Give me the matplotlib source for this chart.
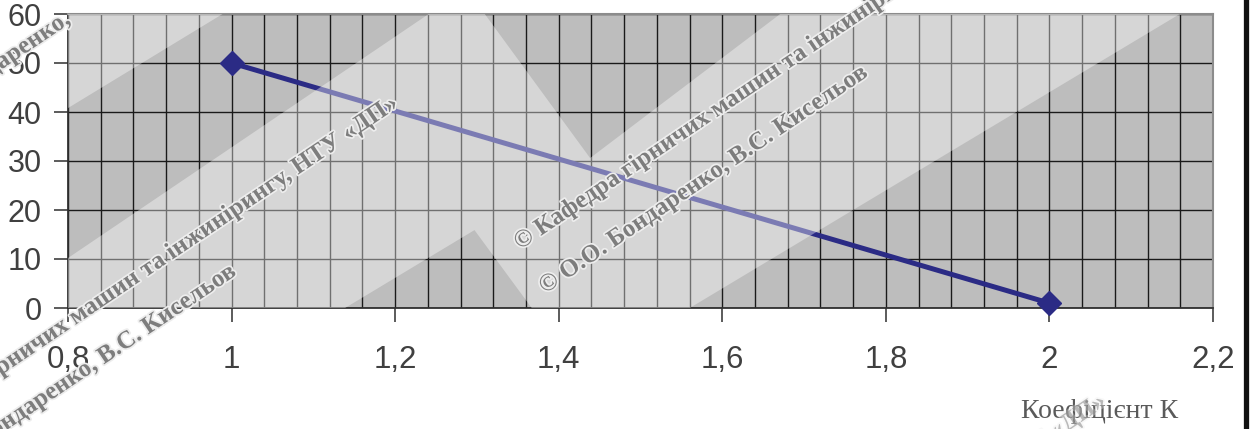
import matplotlib
matplotlib.use("Agg")
import matplotlib.pyplot as plt
import matplotlib.patheffects as pe
import numpy as np
from matplotlib.path import Path
from matplotlib.patches import PathPatch
from matplotlib.lines import Line2D
from matplotlib.ticker import MultipleLocator, FuncFormatter

plt.rcParams['font.family'] = ['Liberation Sans', 'DejaVu Sans']

# data
k_values = [1.0, 2.0]
y_values = [50, 1]

x_ticks = [0.8, 1.0, 1.2, 1.4, 1.6, 1.8, 2.0, 2.2]
y_ticks = [0, 10, 20, 30, 40, 50, 60]
x_label = "Коефіцієнт К"

wm_dept = "© Кафедра гірничих машин та інжинірингу, НТУ «ДП»"
wm_auth = "© О.О. Бондаренко, В.С. Кисельов"

W, H = 1252, 429


def px(x, y):
    # pixel position -> figure fraction
    return x / W, 1 - y / H


fig = plt.figure(figsize=(W / 100, H / 100), dpi=100)
ax = fig.add_axes([68 / W, 121 / H, 1145 / W, 294 / H])
ax.set_facecolor('#bdbdbd')

ax.set_xlim(0.8, 2.2)
ax.set_ylim(0, 60)
ax.set_xticks(x_ticks)
ax.set_yticks(y_ticks)
ax.xaxis.set_minor_locator(MultipleLocator(0.04))
ax.xaxis.set_major_formatter(FuncFormatter(lambda v, p: f"{v:g}".replace('.', ',')))

ax.set_axisbelow(True)
ax.grid(which='both', axis='x', color='#1a1a1a', lw=1.0)
ax.grid(which='major', axis='y', color='#1a1a1a', lw=1.0)
ax.tick_params(which='minor', length=0)
ax.tick_params(axis='x', which='major', length=10, width=1.2, color='#404040',
               pad=17, labelsize=22.5, labelcolor='#404040')
ax.tick_params(axis='y', which='major', length=10, width=1.2, color='#404040',
               pad=9, labelsize=22, labelcolor='#404040')

for s in ['left', 'bottom']:
    ax.spines[s].set_color('#303030')
    ax.spines[s].set_linewidth(1.3)
for s in ['top', 'right']:
    ax.spines[s].set_color('#8c8c8c')
    ax.spines[s].set_linewidth(1.5)

ax.plot(k_values, y_values, color='#2b2b85', lw=3.6, marker='D', ms=12.5,
        mec='#2b2b85', mfc='#2b2b85', zorder=4, clip_on=False)

# light diagonal overlay: whole plot area minus the darker patches
dark_patches = [
    [(0, 0.680), (0.135, 1), (0.315, 1), (0, 0.170)],
    [(0.364, 1), (0.622, 1), (0.456, 0.510)],
    [(0.242, 0), (0.355, 0.265), (0.405, 0)],
    [(0.543, 0), (0.971, 1), (1, 1), (1, 0)],
]


def signed_area(pts):
    a = 0
    for (x0, y0), (x1, y1) in zip(pts, pts[1:] + pts[:1]):
        a += x0 * y1 - x1 * y0
    return a / 2


verts, codes = [], []
outer = [(0, 0), (1, 0), (1, 1), (0, 1)]
for ring, want_ccw in [(outer, True)] + [(p, False) for p in dark_patches]:
    ring = list(ring)
    if (signed_area(ring) > 0) != want_ccw:
        ring = ring[::-1]
    verts += ring + [ring[0]]
    codes += [Path.MOVETO] + [Path.LINETO] * (len(ring) - 1) + [Path.CLOSEPOLY]

overlay = PathPatch(Path(verts, codes), transform=ax.transAxes,
                    facecolor='white', edgecolor='none', alpha=0.38, zorder=5)
ax.add_patch(overlay)

fig.text(*px(1100, 411), x_label, family=['Liberation Serif', 'DejaVu Serif'],
         fontsize=20, color='#5a5a5a', ha='center', va='center')

# watermark text
wm_style = dict(family=['Liberation Serif', 'DejaVu Serif'], fontweight='bold',
                fontsize=18, color='#7d7d7d', rotation=34, rotation_mode='anchor',
                va='baseline', zorder=10,
                path_effects=[pe.withStroke(linewidth=2.5, foreground='#ededed')])
fig.text(*px(520, 250), wm_dept, ha='left', **wm_style)
fig.text(*px(400, 106), wm_dept, ha='right', **wm_style)
fig.text(*px(1108, 404), wm_dept, ha='right', alpha=0.35, **wm_style)
fig.text(*px(545, 294), wm_auth, ha='left', **wm_style)
fig.text(*px(238, 274), wm_auth, ha='right', **wm_style)
fig.text(*px(72, 22), "© О.О. Бондаренко,", ha='right', **wm_style)

# frame line on the right edge
fig.add_artist(Line2D([1246 / W, 1246 / W], [0, 1], lw=3.8, color='#111111',
                      transform=fig.transFigure))

fig.savefig("out.png", dpi=100)
